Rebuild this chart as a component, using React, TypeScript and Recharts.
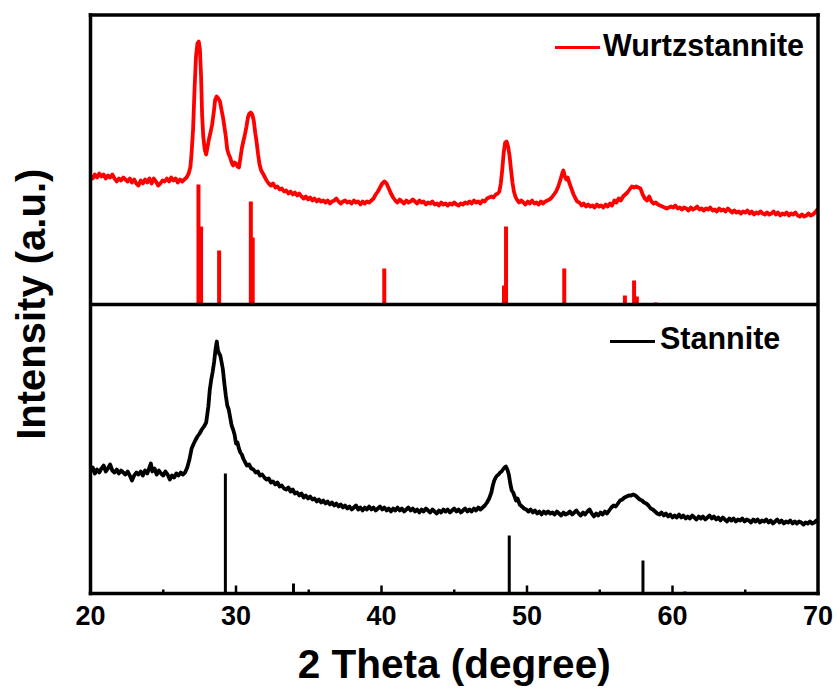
import React from 'react';
import { ComposedChart, Line, XAxis, YAxis, ReferenceLine, Legend } from 'recharts';

// 2θ (degree), intensity (a.u.) — Wurtzstannite measured pattern (upper panel)
const wurtzPattern: [number, number][] = [
  [20.0,129],[20.15,126],[20.3,130],[20.45,127],[20.6,131],[20.75,128],[20.9,130],[21.05,126],[21.2,129],[21.35,127],
  [21.5,130],[21.65,126],[21.8,123],[21.95,126],[22.1,124],[22.25,127],[22.4,125],[22.55,123],[22.7,126],[22.85,122],
  [23.0,125],[23.15,121],[23.3,119],[23.45,124],[23.6,121],[23.75,125],[23.9,122],[24.05,126],[24.2,121],[24.35,126],
  [24.5,123],[24.65,119],[24.8,121],[24.95,124],[25.1,123],[25.25,126],[25.4,123],[25.55,127],[25.7,124],[25.85,126],
  [26.0,122],[26.15,125],[26.3,123],[26.45,125],[26.6,127],[26.75,131],[26.87,138],[26.95,152],[27.05,175],[27.15,215],
  [27.25,248],[27.35,261],[27.44,263],[27.52,255],[27.6,228],[27.67,190],[27.75,168],[27.85,155],[27.95,150],[28.05,158],
  [28.15,166],[28.25,172],[28.36,180],[28.47,192],[28.57,205],[28.67,208],[28.78,206],[28.9,203],[29.0,195],[29.12,186],
  [29.2,178],[29.3,168],[29.4,155],[29.5,150],[29.6,147],[29.7,142],[29.8,139],[29.9,142],[30.0,141],[30.1,138],
  [30.2,137],[30.3,146],[30.4,156],[30.5,163],[30.6,169],[30.72,178],[30.82,187],[30.92,191],[31.02,192],[31.12,190],
  [31.22,184],[31.32,172],[31.42,162],[31.52,150],[31.62,140],[31.73,134],[31.85,131],[31.96,128],[32.1,124],[32.25,121],
  [32.4,119],[32.55,121],[32.7,117],[32.85,118],[33.0,115],[33.15,116],[33.3,113],[33.45,114],[33.6,111],[33.75,113],
  [33.9,110],[34.05,112],[34.2,109],[34.35,111],[34.5,108],[34.65,106],[34.8,108],[34.95,105],[35.1,107],[35.25,104],
  [35.4,106],[35.55,103],[35.7,105],[35.85,103],[36.0,104],[36.15,102],[36.3,104],[36.45,101],[36.6,103],[36.75,104],
  [36.9,106],[37.05,103],[37.2,101],[37.35,103],[37.5,104],[37.65,102],[37.8,103],[37.95,101],[38.1,104],[38.25,102],
  [38.4,103],[38.55,100],[38.7,103],[38.85,101],[39.0,103],[39.15,102],[39.3,104],[39.45,106],[39.6,110],[39.75,113],
  [39.9,117],[40.05,121],[40.2,123],[40.35,121],[40.5,116],[40.65,111],[40.8,107],[40.95,104],[41.1,102],[41.25,105],
  [41.4,103],[41.55,101],[41.7,104],[41.85,102],[42.0,103],[42.15,105],[42.3,103],[42.45,101],[42.6,104],[42.75,102],
  [42.9,103],[43.05,100],[43.2,102],[43.35,101],[43.5,103],[43.65,100],[43.8,101],[43.95,99],[44.1,102],[44.25,100],
  [44.4,101],[44.55,99],[44.7,101],[44.85,100],[45.0,102],[45.15,100],[45.3,99],[45.45,101],[45.6,100],[45.75,102],
  [45.9,101],[46.05,103],[46.2,101],[46.35,104],[46.5,102],[46.65,103],[46.8,101],[46.95,104],[47.1,103],[47.25,106],
  [47.4,107],[47.55,108],[47.7,107],[47.85,110],[48.0,111],[48.1,113],[48.2,121],[48.3,135],[48.4,152],[48.5,162],
  [48.6,163],[48.7,158],[48.8,149],[48.9,135],[49.0,122],[49.1,113],[49.2,108],[49.3,105],[49.45,102],[49.6,104],
  [49.75,102],[49.9,100],[50.05,103],[50.2,101],[50.35,104],[50.5,101],[50.65,102],[50.8,100],[50.95,103],[51.1,101],
  [51.25,103],[51.4,104],[51.55,105],[51.7,107],[51.85,110],[52.0,113],[52.15,118],[52.3,125],[52.42,131],[52.5,134],
  [52.6,128],[52.7,125],[52.8,127],[52.9,122],[53.0,118],[53.1,114],[53.2,110],[53.3,107],[53.45,103],[53.6,102],
  [53.75,99],[53.9,101],[54.05,98],[54.2,100],[54.35,98],[54.5,99],[54.65,97],[54.8,100],[54.95,98],[55.1,99],
  [55.25,97],[55.4,100],[55.55,98],[55.7,101],[55.85,99],[56.0,104],[56.15,102],[56.3,106],[56.45,104],[56.6,108],
  [56.75,110],[56.9,112],[57.05,115],[57.2,118],[57.35,117],[57.5,118],[57.65,117],[57.8,116],[57.95,110],[58.1,106],
  [58.25,104],[58.4,108],[58.55,103],[58.7,101],[58.85,102],[59.0,100],[59.15,99],[59.3,98],[59.45,97],[59.6,96],
  [59.75,97],[59.9,98],[60.05,97],[60.2,99],[60.35,96],[60.5,97],[60.65,95],[60.8,97],[60.95,96],[61.1,94],
  [61.25,97],[61.4,95],[61.55,96],[61.7,98],[61.85,95],[62.0,96],[62.15,94],[62.3,96],[62.45,95],[62.6,97],
  [62.75,94],[62.9,95],[63.05,93],[63.2,96],[63.35,94],[63.5,95],[63.65,93],[63.8,96],[63.95,94],[64.1,92],
  [64.25,94],[64.4,92],[64.55,93],[64.7,91],[64.85,93],[65.0,92],[65.15,94],[65.3,91],[65.45,93],[65.6,90],
  [65.75,92],[65.9,91],[66.05,93],[66.2,91],[66.35,90],[66.5,92],[66.65,90],[66.8,91],[66.95,93],[67.1,90],
  [67.25,92],[67.4,89],[67.55,91],[67.7,90],[67.85,92],[68.0,89],[68.15,91],[68.3,90],[68.45,92],[68.6,89],
  [68.75,88],[68.9,90],[69.05,88],[69.2,89],[69.35,91],[69.5,89],[69.65,90],[69.8,92],[69.9,94],[70.0,96],
];

// 2θ (degree), intensity (a.u.) — Stannite measured pattern (lower panel)
const stannPattern: [number, number][] = [
  [20.0,122],[20.15,126],[20.3,120],[20.45,124],[20.6,121],[20.75,125],[20.9,128],[21.05,122],[21.2,125],[21.35,129],
  [21.5,123],[21.65,121],[21.8,124],[21.95,120],[22.1,123],[22.25,121],[22.4,119],[22.55,122],[22.7,118],[22.85,113],
  [23.0,118],[23.15,121],[23.3,119],[23.45,122],[23.6,118],[23.75,123],[23.9,120],[24.05,126],[24.15,130],[24.25,122],
  [24.4,125],[24.55,119],[24.7,123],[24.85,120],[25.0,118],[25.15,122],[25.3,119],[25.45,114],[25.6,118],[25.75,116],
  [25.9,120],[26.05,118],[26.2,121],[26.35,119],[26.5,121],[26.65,126],[26.8,134],[26.95,145],[27.1,150],[27.2,153],
  [27.35,157],[27.5,160],[27.65,164],[27.8,167],[27.95,171],[28.1,187],[28.2,204],[28.3,214],[28.4,222],[28.5,232],
  [28.6,245],[28.68,252],[28.76,243],[28.84,240],[28.92,238],[29.0,232],[29.1,224],[29.2,210],[29.3,198],[29.4,188],
  [29.5,184],[29.6,176],[29.7,168],[29.8,164],[29.9,159],[30.0,150],[30.1,151],[30.2,145],[30.3,141],[30.4,139],
  [30.5,135],[30.6,132],[30.75,128],[30.9,129],[31.05,125],[31.2,124],[31.35,121],[31.5,122],[31.65,118],[31.8,119],
  [31.95,116],[32.1,114],[32.25,115],[32.4,111],[32.55,112],[32.7,109],[32.85,111],[33.0,107],[33.15,108],[33.3,105],
  [33.45,104],[33.6,106],[33.75,102],[33.9,104],[34.05,100],[34.2,101],[34.35,98],[34.5,100],[34.65,96],[34.8,98],
  [34.95,95],[35.1,97],[35.25,94],[35.4,95],[35.55,92],[35.7,94],[35.85,91],[36.0,93],[36.15,90],[36.3,92],
  [36.45,89],[36.6,91],[36.75,88],[36.9,90],[37.05,87],[37.2,89],[37.35,86],[37.5,88],[37.65,85],[37.8,87],
  [37.95,84],[38.1,86],[38.25,88],[38.4,84],[38.55,86],[38.7,83],[38.85,86],[39.0,84],[39.15,87],[39.3,84],
  [39.45,86],[39.6,83],[39.75,85],[39.9,87],[40.05,84],[40.2,86],[40.35,83],[40.5,85],[40.65,82],[40.8,85],
  [40.95,83],[41.1,86],[41.25,83],[41.4,85],[41.55,82],[41.7,84],[41.85,86],[42.0,83],[42.15,85],[42.3,82],
  [42.45,84],[42.6,81],[42.75,84],[42.9,82],[43.05,85],[43.2,83],[43.35,81],[43.5,84],[43.65,82],[43.8,80],
  [43.95,83],[44.1,81],[44.25,84],[44.4,82],[44.55,84],[44.7,81],[44.85,83],[45.0,85],[45.15,82],[45.3,84],
  [45.45,81],[45.6,83],[45.75,85],[45.9,82],[46.05,84],[46.2,82],[46.35,85],[46.5,83],[46.65,86],[46.8,84],
  [46.95,86],[47.1,88],[47.25,91],[47.4,95],[47.55,101],[47.65,108],[47.75,113],[47.85,116],[47.95,118],[48.05,119],
  [48.15,121],[48.25,122],[48.35,124],[48.45,126],[48.55,127],[48.65,124],[48.75,119],[48.85,110],[48.95,103],[49.05,101],
  [49.15,97],[49.25,93],[49.35,95],[49.5,89],[49.65,87],[49.8,85],[49.95,84],[50.1,82],[50.25,84],[50.4,81],
  [50.55,83],[50.7,80],[50.85,82],[51.0,79],[51.15,82],[51.3,80],[51.45,82],[51.6,80],[51.75,81],[51.9,79],
  [52.05,82],[52.2,80],[52.35,78],[52.5,81],[52.65,79],[52.8,80],[52.95,82],[53.1,79],[53.25,81],[53.4,83],
  [53.55,80],[53.7,78],[53.85,81],[54.0,79],[54.15,82],[54.3,84],[54.45,80],[54.6,77],[54.75,80],[54.9,78],
  [55.05,81],[55.2,79],[55.35,82],[55.5,80],[55.65,83],[55.8,86],[55.95,88],[56.1,87],[56.25,90],[56.4,93],
  [56.55,94],[56.7,96],[56.85,97],[57.0,98],[57.15,98],[57.3,99],[57.45,98],[57.6,96],[57.75,94],[57.9,93],
  [58.05,91],[58.2,90],[58.35,88],[58.5,85],[58.65,84],[58.8,82],[58.95,80],[59.1,79],[59.25,81],[59.4,78],
  [59.55,80],[59.7,77],[59.85,79],[60.0,76],[60.15,78],[60.3,76],[60.45,79],[60.6,76],[60.75,78],[60.9,75],
  [61.05,77],[61.2,75],[61.35,78],[61.5,76],[61.65,74],[61.8,77],[61.95,75],[62.1,77],[62.25,74],[62.4,76],
  [62.55,78],[62.7,75],[62.85,77],[63.0,74],[63.15,76],[63.3,73],[63.45,76],[63.6,74],[63.75,72],[63.9,75],
  [64.05,73],[64.2,75],[64.35,72],[64.5,74],[64.65,73],[64.8,75],[64.95,72],[65.1,74],[65.25,73],[65.4,71],
  [65.55,74],[65.7,72],[65.85,74],[66.0,71],[66.15,73],[66.3,72],[66.45,74],[66.6,71],[66.75,73],[66.9,70],
  [67.05,72],[67.2,74],[67.35,71],[67.5,73],[67.65,70],[67.8,72],[67.95,71],[68.1,73],[68.25,70],[68.4,72],
  [68.55,70],[68.7,72],[68.85,71],[69.0,69],[69.15,71],[69.3,70],[69.45,72],[69.6,70],[69.75,71],[69.9,73],[70.0,72],
];

// Reference (standard card) lines: [2θ, relative height]
const wurtzSticks: [number, number][] = [
  [27.42,120],[27.6,78],[28.84,54],[31.02,103],[31.15,67],[40.19,36],[48.42,19],[48.56,78],
  [52.56,36],[56.73,9],[57.36,24],[57.55,8],[58.85,2],[59.6,1.5],
];
const stannSticks: [number, number][] = [
  [29.27,120],[33.95,10],[48.78,58],[57.97,33],[60.85,2],
];

const xTicks = [20, 30, 40, 50, 60, 70];
const majorMarks = [30, 40, 50, 60];
const minorMarks = [25, 35, 45, 55, 65];

const seriesNames = ['Wurtzstannite', 'Stannite'];
const seriesColors = ['#ff0000', '#000000'];

const wurtzData = wurtzPattern.map(([x, v]) => ({ x, v }));
const stannData = stannPattern.map(([x, v]) => ({ x, v }));

const W = 837;
const H = 688;
const FONT = '"Liberation Sans", Arial, Helvetica, sans-serif';
const TOP_DOMAIN: [number, number] = [-289, 289.5];
const BOT_DOMAIN: [number, number] = [0, 578.5];
const FRAME_W = 3.5;
const Y_AXIS_W = 90.5;

const legendPos: Record<string, { lineLeft: number; lineTop: number; textLeft: number; textTop: number }> = {
  Wurtzstannite: { lineLeft: 555, lineTop: 45.5, textLeft: 603, textTop: 29.5 },
  Stannite: { lineLeft: 610, lineTop: 339.8, textLeft: 660, textTop: 322.5 },
};

const renderLegend = (props: any) => {
  const payload = (props && props.payload && props.payload.length
    ? props.payload
    : seriesNames.map((n, i) => ({ value: n, color: seriesColors[i] }))) as any[];
  return (
    <div style={{ position: 'relative', width: 0, height: 0 }}>
      {payload.map((entry: any) => {
        const p = legendPos[entry.value];
        if (!p) return null;
        return (
          <React.Fragment key={entry.value}>
            <div
              style={{
                position: 'absolute',
                left: p.lineLeft,
                top: p.lineTop,
                width: 45,
                height: 3.5,
                background: entry.color,
              }}
            />
            <div
              style={{
                position: 'absolute',
                left: p.textLeft,
                top: p.textTop,
                fontFamily: FONT,
                fontWeight: 'bold',
                fontSize: 30.5,
                lineHeight: 1,
                color: '#000',
                whiteSpace: 'nowrap',
              }}
            >
              {entry.value}
            </div>
          </React.Fragment>
        );
      })}
    </div>
  );
};

const renderXLabel = (props: any) => {
  const vb = (props && props.viewBox) || { x: 90.5, y: 593.5, width: 727.5, height: 40 };
  return (
    <text
      x={vb.x + vb.width / 2}
      y={vb.y + 84.5}
      textAnchor="middle"
      fontFamily={FONT}
      fontWeight="bold"
      fontSize={40.5}
      fill="#000"
    >
      2 Theta (degree)
    </text>
  );
};

const renderYLabel = (props: any) => {
  const vb = (props && props.viewBox) || { x: 0, y: 15, width: Y_AXIS_W, height: 578.5 };
  const cx = vb.x + vb.width - 46;
  const cy = vb.y + vb.height / 2;
  return (
    <text
      x={cx}
      y={cy}
      transform={`rotate(-90, ${cx}, ${cy})`}
      textAnchor="middle"
      fontFamily={FONT}
      fontWeight="bold"
      fontSize={40}
      fill="#000"
    >
      Intensity (a.u.)
    </text>
  );
};

export default function App() {
  return (
    <div style={{ position: 'absolute', left: 0, top: 0, width: W, height: H, background: '#fff' }}>
      <ComposedChart width={W} height={H} margin={{ top: 15, right: 19, left: 0, bottom: 54.5 }}>
        <XAxis
          xAxisId="x"
          dataKey="x"
          type="number"
          domain={[20, 70]}
          ticks={xTicks}
          interval={0}
          allowDataOverflow
          axisLine={false}
          tickLine={false}
          height={40}
          tickSize={6}
          tickMargin={6.5}
          tick={{ fontSize: 27, fontWeight: 'bold', fill: '#000', fontFamily: FONT }}
          label={{ content: renderXLabel }}
        />
        <YAxis yAxisId="top" type="number" domain={TOP_DOMAIN} allowDataOverflow hide />
        <YAxis
          yAxisId="bot"
          type="number"
          domain={BOT_DOMAIN}
          allowDataOverflow
          width={Y_AXIS_W}
          tick={false}
          tickLine={false}
          axisLine={false}
          label={{ content: renderYLabel }}
        />
        <Legend content={renderLegend} wrapperStyle={{ position: 'absolute', left: 0, top: 0, width: 0, height: 0, margin: 0, padding: 0 }} />

        <Line
          name={seriesNames[0]}
          data={wurtzData}
          dataKey="v"
          xAxisId="x"
          yAxisId="top"
          type="linear"
          stroke={seriesColors[0]}
          strokeWidth={3.8}
          strokeLinejoin="round"
          dot={false}
          activeDot={false}
          isAnimationActive={false}
        />
        <Line
          name={seriesNames[1]}
          data={stannData}
          dataKey="v"
          xAxisId="x"
          yAxisId="bot"
          type="linear"
          stroke={seriesColors[1]}
          strokeWidth={3.8}
          strokeLinejoin="round"
          dot={false}
          activeDot={false}
          isAnimationActive={false}
        />

        {wurtzSticks.map(([x, h], i) => (
          <ReferenceLine
            key={`ws${i}`}
            xAxisId="x"
            yAxisId="top"
            segment={[{ x, y: 0 }, { x, y: h }]}
            stroke={seriesColors[0]}
            strokeWidth={4}
          />
        ))}
        {stannSticks.map(([x, h], i) => (
          <ReferenceLine
            key={`ss${i}`}
            xAxisId="x"
            yAxisId="bot"
            segment={[{ x, y: 0 }, { x, y: h }]}
            stroke={seriesColors[1]}
            strokeWidth={3}
          />
        ))}

        {majorMarks.map((x) => (
          <ReferenceLine key={`mj${x}`} xAxisId="x" yAxisId="bot" segment={[{ x, y: 0 }, { x, y: 8 }]} stroke="#000" strokeWidth={2.5} />
        ))}
        {minorMarks.map((x) => (
          <ReferenceLine key={`mn${x}`} xAxisId="x" yAxisId="bot" segment={[{ x, y: 0 }, { x, y: 4 }]} stroke="#000" strokeWidth={2.5} />
        ))}

        <ReferenceLine xAxisId="x" yAxisId="top" y={0} stroke="#000" strokeWidth={FRAME_W} ifOverflow="visible" />
        <ReferenceLine xAxisId="x" yAxisId="bot" y={BOT_DOMAIN[1]} stroke="#000" strokeWidth={FRAME_W} strokeLinecap="square" ifOverflow="visible" />
        <ReferenceLine xAxisId="x" yAxisId="bot" y={0} stroke="#000" strokeWidth={FRAME_W} strokeLinecap="square" ifOverflow="visible" />
        <ReferenceLine xAxisId="x" yAxisId="bot" x={20} stroke="#000" strokeWidth={FRAME_W} strokeLinecap="square" ifOverflow="visible" />
        <ReferenceLine xAxisId="x" yAxisId="bot" x={70} stroke="#000" strokeWidth={FRAME_W} strokeLinecap="square" ifOverflow="visible" />
      </ComposedChart>
    </div>
  );
}
